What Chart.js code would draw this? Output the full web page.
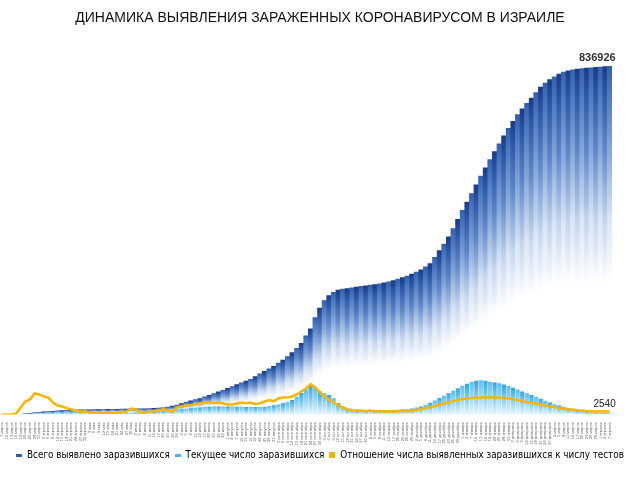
<!DOCTYPE html>
<html>
<head>
<meta charset="utf-8">
<script src="https://cdn.jsdelivr.net/npm/chart.js@4"></script>
<style>
  body { margin: 0; background: #fff; }
</style>
</head>
<body>
<canvas id="myChart" width="640" height="480"></canvas>
<script>
var dates = [
  "7 марта", "10 марта", "13 марта", "16 марта", "19 марта", "22 марта", "25 марта", "28 марта", "31 марта",
  "3 апреля", "6 апреля", "9 апреля", "12 апреля", "15 апреля", "18 апреля", "21 апреля", "24 апреля", "27 апреля", "30 апреля",
  "3 мая", "6 мая", "9 мая", "12 мая", "15 мая", "18 мая", "21 мая", "24 мая", "27 мая", "30 мая",
  "2 июня", "5 июня", "8 июня", "11 июня", "14 июня", "17 июня", "20 июня", "23 июня", "26 июня", "29 июня",
  "2 июля", "5 июля", "8 июля", "11 июля", "14 июля", "17 июля", "20 июля", "23 июля", "26 июля", "29 июля",
  "1 августа", "4 августа", "7 августа", "10 августа", "13 августа", "16 августа", "19 августа", "22 августа", "25 августа", "28 августа", "31 августа",
  "3 сентября", "6 сентября", "9 сентября", "12 сентября", "15 сентября", "18 сентября", "21 сентября", "24 сентября", "27 сентября", "30 сентября",
  "3 октября", "6 октября", "9 октября", "12 октября", "15 октября", "18 октября", "21 октября", "24 октября", "27 октября", "30 октября",
  "2 ноября", "5 ноября", "8 ноября", "11 ноября", "14 ноября", "17 ноября", "20 ноября", "23 ноября", "26 ноября", "29 ноября",
  "2 декабря", "5 декабря", "8 декабря", "11 декабря", "14 декабря", "17 декабря", "20 декабря", "23 декабря", "26 декабря", "29 декабря",
  "1 января", "4 января", "7 января", "10 января", "13 января", "16 января", "19 января", "22 января", "25 января", "28 января", "31 января",
  "3 февраля", "6 февраля", "9 февраля", "12 февраля", "15 февраля", "18 февраля", "21 февраля", "24 февраля", "27 февраля",
  "2 марта", "5 марта", "8 марта", "11 марта", "14 марта", "17 марта", "20 марта", "23 марта", "26 марта", "29 марта",
  "1 апреля", "4 апреля", "7 апреля"
];

// всего выявлено заразившихся (нарастающим итогом)
var totalCases = [
  15, 40, 100, 250, 600, 1500, 2800, 4200, 5400, 6300,
  7000, 7800, 8700, 9500, 10100, 10500, 10900, 11200, 11400, 11600,
  11800, 12000, 12200, 12400, 12600, 12800, 13000, 13300, 13500, 13700,
  13900, 14100, 14400, 14900, 15600, 16400, 18000, 20300, 23000, 26500,
  29800, 33000, 36000, 38600, 42500, 46500, 50500, 54500, 58500, 63000,
  67500, 72000, 76500, 80500, 85000, 91500, 98000, 104000, 110000, 116000,
  124000, 131000, 139500, 149000, 159500, 171000, 189000, 206000, 233000, 256000,
  274000, 286000, 294000, 299000, 301500, 303000, 304800, 306500, 308000, 309500,
  311000, 312500, 314500, 316500, 319000, 322000, 325500, 329000, 333000, 337500,
  342500, 348000, 355000, 363000, 378000, 394000, 410000, 427000, 447000, 469000,
  491000, 511000, 531000, 552000, 573000, 593000, 613000, 632000, 651000, 670000,
  688000, 705000, 721000, 735000, 748000, 761000, 774000, 787000, 797000, 805000,
  812000, 818500, 823000, 826500, 828500, 830200, 831500, 832700, 833700, 834600,
  835500, 836300, 836926
];

// текущее число заразившихся
var activeCases = [
  0, 0, 0, 0, 100, 400, 1000, 1800, 2600, 3400,
  4200, 5000, 5600, 6000, 6300, 6500, 6600, 6600, 6500, 6300,
  6000, 5700, 5400, 5200, 5000, 4800, 4700, 4600, 4600, 4700,
  4900, 5200, 5600, 6200, 7000, 8000, 9000, 10200, 11500, 12800,
  14000, 15200, 16300, 17200, 18000, 18700, 19200, 19500, 19600, 19500,
  19300, 19000, 18600, 18200, 18000, 18000, 18300, 19000, 20500, 22500,
  24500, 27000, 30000, 35000, 43000, 52000, 60000, 69000, 65000, 56000,
  51000, 47000, 39000, 28000, 19000, 13000, 10800, 10000, 9700, 9600,
  9600, 9600, 9700, 9900, 10300, 10800, 11400, 12100, 13000, 14500,
  17000, 19500, 23500, 28500, 34000, 40000, 45000, 51000, 57000, 63500,
  69000, 74000, 78000, 81000, 82500, 81500, 79000, 77000, 75000, 72000,
  68500, 64500, 60000, 55500, 51000, 47000, 42500, 38000, 33000, 29000,
  25000, 22000, 19000, 15500, 12500, 10500, 8800, 7200, 5800, 4600,
  3700, 3000, 2540
];

// отношение выявленных к числу тестов, %
var positiveRate = [
  0, 0, 0, 0.5, 3.5, 6.5, 7.5, 10.5, 10, 9,
  8.5, 6, 4.5, 4, 3.2, 2.5, 2, 1.7, 1.5, 1.2,
  0.9, 1.0, 0.8, 1.0, 0.9, 1.0, 1.1, 1.5, 3.0, 2.5,
  1.0, 1.2, 1.5, 1.7, 2.0, 2.7, 2.0, 1.5, 3.5, 4.2,
  4.5, 4.7, 5.2, 5.5, 6.0, 6.2, 5.7, 6.0, 5.5, 5.0,
  5.0, 5.5, 6.0, 5.7, 6.0, 5.2, 5.7, 6.5, 7.2, 6.7,
  8.0, 8.5, 8.5, 9.0, 10.0, 11.5, 13.0, 15.0, 13.5, 11.0,
  9.0, 7.5, 6.0, 4.7, 3.5, 2.7, 2.2, 2.0, 2.0, 1.7,
  2.0, 1.7, 1.7, 1.5, 1.7, 1.5, 1.7, 2.0, 1.7, 2.0,
  2.2, 2.7, 3.2, 3.7, 4.2, 5.0, 5.5, 6.2, 6.7, 7.2,
  7.7, 8.0, 8.2, 8.5, 8.5, 8.5, 8.7, 8.5, 8.5, 8.2,
  8.0, 7.7, 7.2, 6.7, 6.2, 5.7, 5.5, 5.0, 4.5, 4.2,
  3.7, 3.2, 3.0, 2.7, 2.5, 2.2, 2.0, 1.7, 1.7, 1.5,
  1.5, 1.5, 1.5
];

var seriesNames = [
  "Всего выявлено заразившихся",
  "Текущее число заразившихся",
  "Отношение числа выявленных заразившихся к числу тестов"
];

var FONT = "'Liberation Sans', Arial, sans-serif";
var NARROW = "'Liberation Sans Narrow', 'DejaVu Sans Condensed', 'Liberation Sans', sans-serif";

// gradient from the top of each bar down to the baseline
function totalFill(c) {
  var chart = c.chart;
  if (!chart.chartArea || c.type !== 'data') return '#2a5caa';
  var y = chart.scales.y;
  var yTop = y.getPixelForValue(c.raw);
  var yBot = y.getPixelForValue(0);
  if (yBot - yTop < 1) yTop = yBot - 1;
  var g = chart.ctx.createLinearGradient(0, yTop, 0, yBot);
  var odd = c.dataIndex % 2;
  g.addColorStop(0, odd ? '#1d3a86' : '#3461ad');
  g.addColorStop(0.07, odd ? '#2b55a3' : '#4a77bf');
  g.addColorStop(0.24, odd ? '#5f88c9' : '#86a8da');
  g.addColorStop(0.44, odd ? '#c3d5ee' : '#dbe6f5');
  g.addColorStop(0.62, '#ffffff');
  g.addColorStop(1, '#ffffff');
  return g;
}

function activeFill(c) {
  var chart = c.chart;
  if (!chart.chartArea || c.type !== 'data') return '#3eaee8';
  var y = chart.scales.y;
  var yTop = y.getPixelForValue(c.raw);
  var yBot = y.getPixelForValue(0);
  if (yBot - yTop < 1) yTop = yBot - 1;
  var g = chart.ctx.createLinearGradient(0, yTop, 0, yBot);
  g.addColorStop(0, c.dataIndex % 2 ? '#2fa6e4' : '#5cbdf0');
  g.addColorStop(1, '#e8f6fd');
  return g;
}

// little legend markers
function marker(w, h, color) {
  var cv = document.createElement('canvas');
  cv.width = w; cv.height = h;
  var cx = cv.getContext('2d');
  cx.fillStyle = color;
  cx.fillRect(0, 0, w, h);
  return cv;
}
var markers = [marker(6, 3, '#2a5caa'), marker(6, 3, '#48b6ee'), marker(6, 6, '#f7b500')];

var valueLabels = {
  id: 'valueLabels',
  afterDatasetsDraw: function (chart) {
    var ctx = chart.ctx;
    var n = totalCases.length - 1;
    var pTotal = chart.getDatasetMeta(0).data[n];
    var pActive = chart.getDatasetMeta(1).data[n];
    ctx.save();
    ctx.textAlign = 'right';
    ctx.textBaseline = 'bottom';
    ctx.fillStyle = '#333';
    ctx.font = 'bold 11px ' + FONT;
    ctx.fillText(String(totalCases[n]), pTotal.x + 6, pTotal.y - 3);
    ctx.font = '10px ' + FONT;
    ctx.fillStyle = '#222';
    ctx.fillText(String(activeCases[n]), pActive.x + 6, pActive.y - 4);
    ctx.restore();
  }
};

new Chart("myChart", {
  type: "bar",
  data: {
    labels: dates,
    datasets: [{
      label: seriesNames[0],
      data: totalCases,
      backgroundColor: totalFill,
      borderWidth: 0,
      grouped: false,
      barPercentage: 1,
      categoryPercentage: 1,
      order: 3
    }, {
      label: seriesNames[1],
      data: activeCases,
      backgroundColor: activeFill,
      borderWidth: 0,
      grouped: false,
      barPercentage: 0.9,
      categoryPercentage: 1,
      order: 2
    }, {
      type: "line",
      label: seriesNames[2],
      data: positiveRate,
      yAxisID: "y2",
      borderColor: "#f7b500",
      backgroundColor: "#f7b500",
      borderWidth: 2.5,
      pointRadius: 0,
      tension: 0,
      order: 1
    }]
  },
  options: {
    responsive: false,
    animation: false,
    devicePixelRatio: 1,
    layout: { padding: { left: 0, right: 0, top: 4, bottom: 10 } },
    plugins: {
      title: {
        display: true,
        text: "ДИНАМИКА ВЫЯВЛЕНИЯ ЗАРАЖЕННЫХ КОРОНАВИРУСОМ В ИЗРАИЛЕ",
        color: "#111",
        font: { family: FONT, size: 14, weight: 'normal' },
        padding: { top: 6, bottom: 20 }
      },
      legend: {
        position: "bottom",
        labels: {
          usePointStyle: true,
          pointStyleWidth: 6,
          color: "#111",
          font: { family: NARROW, size: 9.8 },
          padding: 5,
          sort: function (a, b) { return a.datasetIndex - b.datasetIndex; },
          generateLabels: function (chart) {
            return seriesNames.map(function (name, i) {
              return {
                text: name,
                datasetIndex: i,
                pointStyle: markers[i],
                fillStyle: '#000',
                strokeStyle: 'transparent',
                lineWidth: 0,
                hidden: false
              };
            });
          }
        }
      },
      tooltip: { enabled: false }
    },
    scales: {
      x: {
        grid: { display: false },
        border: { display: false },
        ticks: {
          autoSkip: false,
          minRotation: 90,
          maxRotation: 90,
          padding: 0,
          color: "#666",
          font: { family: FONT, size: 4 }
        }
      },
      y: {
        display: false,
        min: 0,
        max: 884000
      },
      y2: {
        position: 'right',
        min: 0,
        max: 183,
        grid: { display: false },
        border: { display: false },
        ticks: { display: false },
        afterFit: function (axis) { axis.width = 28; }
      }
    }
  },
  plugins: [valueLabels]
});
</script>
</body>
</html>
